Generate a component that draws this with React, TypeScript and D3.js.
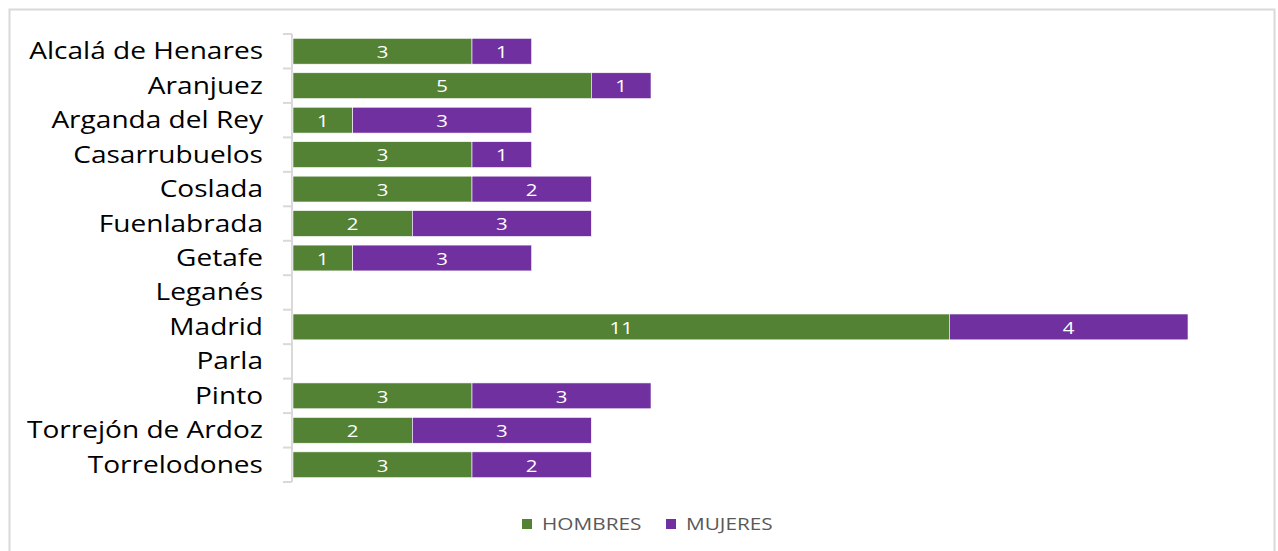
import React from "react";
import * as d3 from "d3";

const categories = [
  "Alcalá de Henares",
  "Aranjuez",
  "Arganda del Rey",
  "Casarrubuelos",
  "Coslada",
  "Fuenlabrada",
  "Getafe",
  "Leganés",
  "Madrid",
  "Parla",
  "Pinto",
  "Torrejón de Ardoz",
  "Torrelodones",
];
const hombres = [3, 5, 1, 3, 3, 2, 1, 0, 11, 0, 3, 2, 3];
const mujeres = [1, 1, 3, 1, 2, 3, 3, 0, 4, 0, 3, 3, 2];
const seriesNames = ["HOMBRES", "MUJERES"];
const colors = ["#548235", "#7030A0"];

export default function App() {
  const W = 1278, H = 551;
  const left = 293, right = 1188, top = 34, bottom = 482;
  const x = d3.scaleLinear().domain([0, 15]).range([left, right]);
  const y = d3.scaleBand<string>().domain(categories).range([top, bottom]).paddingInner(0.25).paddingOuter(0.125);
  const band = (bottom - top) / categories.length;
  const font = "'Open Sans', 'Noto Sans', sans-serif";
  const rows = categories.map((c, i) => ({ c, h: hombres[i], m: mujeres[i] }));
  const valueLabel = (cx: number, cy: number, v: number) => (
    <text transform={`translate(${cx},${cy}) scale(1.2,1)`} textAnchor="middle" dominantBaseline="central" fontFamily={font} fontSize={17} fill="#fff">
      {v}
    </text>
  );
  return (
    <svg width={W} height={H} style={{ position: "absolute", left: 0, top: 0 }}>
      <rect x={0} y={0} width={W} height={H} fill="#fff" />
      <rect x={9.5} y={9.5} width={1265} height={560} fill="#fff" stroke="#d9d9d9" strokeWidth={2} />
      <line x1={left - 1} x2={left - 1} y1={top} y2={bottom} stroke="#d9d9d9" strokeWidth={2} />
      {d3.range(categories.length + 1).map((i) => (
        <line key={i} x1={left - 10} x2={left - 1} y1={top + i * band} y2={top + i * band} stroke="#d9d9d9" strokeWidth={2} />
      ))}
      {rows.map((r) => {
        const yy = y(r.c)!;
        const bh = y.bandwidth();
        const cy = yy + bh / 2;
        return (
          <g key={r.c}>
            <text transform={`translate(263,${cy - 0.5}) scale(1.22,1)`} textAnchor="end" dominantBaseline="central" fontFamily={font} fontSize={23} fill="#000">
              {r.c}
            </text>
            {r.h > 0 && (
              <g>
                <rect x={x(0)} y={yy} width={x(r.h) - x(0)} height={bh} fill={colors[0]} stroke="#fff" strokeWidth={0.6} />
                {valueLabel((x(0) + x(r.h)) / 2, cy, r.h)}
              </g>
            )}
            {r.m > 0 && (
              <g>
                <rect x={x(r.h)} y={yy} width={x(r.h + r.m) - x(r.h)} height={bh} fill={colors[1]} stroke="#fff" strokeWidth={0.6} />
                {valueLabel((x(r.h) + x(r.h + r.m)) / 2, cy, r.m)}
              </g>
            )}
          </g>
        );
      })}
      {seriesNames.map((s, i) => {
        const lx = i === 0 ? 522 : 666;
        return (
          <g key={s}>
            <rect x={lx} y={519} width={10} height={10} fill={colors[i]} />
            <text transform={`translate(${lx + 20},524) scale(1.3,1)`} dominantBaseline="central" fontFamily={font} fontSize={16} fill="#595959">
              {s}
            </text>
          </g>
        );
      })}
    </svg>
  );
}
